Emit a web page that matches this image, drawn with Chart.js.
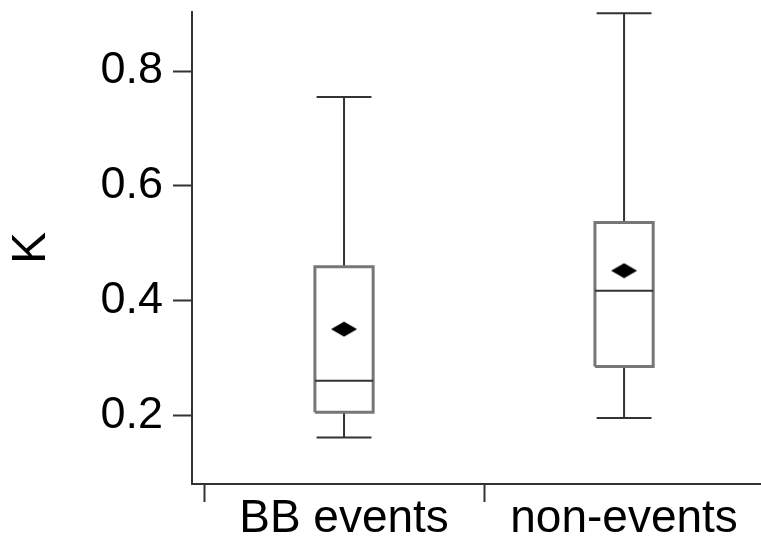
<!DOCTYPE html>
<html>
<head>
<meta charset="utf-8">
<script src="https://cdn.jsdelivr.net/npm/chart.js@4"></script>
<style>
  html, body { margin: 0; padding: 0; background: #fff; }
  canvas { display: block; }
</style>
</head>
<body>
<canvas id="boxChart" width="761" height="542"></canvas>
<script>
// categories and box statistics
const categories = ["BB events", "non-events"];
const whiskerLow = [0.161, 0.195];
const q1 = [0.205, 0.285];
const medians = [0.26, 0.417];
const q3 = [0.459, 0.536];
const whiskerHigh = [0.755, 0.901];
const means = [0.35, 0.452];
const yTicks = [0.2, 0.4, 0.6, 0.8];

const FONT = "'Liberation Sans', Arial, sans-serif";
const boxHalf = 0.104; // half width of a box, in x units
const capHalf = 0.098; // half width of whisker caps

// each category sits in the middle of its slot [i, i+1]
const centers = categories.map((c, i) => i + 0.5);
const GAP = { x: null, y: null };

const boxPts = [];
const medianPts = [];
const whiskerPts = [];
centers.forEach((x, i) => {
  boxPts.push(
    { x: x - boxHalf, y: q1[i] }, { x: x + boxHalf, y: q1[i] },
    { x: x + boxHalf, y: q3[i] }, { x: x - boxHalf, y: q3[i] },
    { x: x - boxHalf, y: q1[i] }, GAP
  );
  medianPts.push({ x: x - boxHalf, y: medians[i] }, { x: x + boxHalf, y: medians[i] }, GAP);
  whiskerPts.push(
    { x: x, y: q3[i] }, { x: x, y: whiskerHigh[i] }, GAP,
    { x: x - capHalf, y: whiskerHigh[i] }, { x: x + capHalf, y: whiskerHigh[i] }, GAP,
    { x: x, y: q1[i] }, { x: x, y: whiskerLow[i] }, GAP,
    { x: x - capHalf, y: whiskerLow[i] }, { x: x + capHalf, y: whiskerLow[i] }, GAP
  );
});
const meanPts = centers.map((x, i) => ({ x: x, y: means[i] }));

// flattened diamond for the mean marker
const diamond = document.createElement("canvas");
diamond.width = 28;
diamond.height = 16;
const dctx = diamond.getContext("2d");
dctx.fillStyle = "#000";
dctx.beginPath();
dctx.moveTo(1, 8);
dctx.lineTo(14, 0.5);
dctx.lineTo(27, 8);
dctx.lineTo(14, 15.5);
dctx.closePath();
dctx.fill();

const lineDefaults = {
  pointRadius: 0,
  fill: false,
  tension: 0,
  spanGaps: false,
  borderCapStyle: "butt",
};

new Chart(document.getElementById("boxChart"), {
  type: "line",
  data: {
    datasets: [
      { ...lineDefaults, label: "mean", data: meanPts, showLine: false, pointStyle: diamond, pointRadius: 8 },
      { ...lineDefaults, label: "median", data: medianPts, borderColor: "#333", borderWidth: 2 },
      { ...lineDefaults, label: "box", data: boxPts, borderColor: "#777", borderWidth: 3, borderJoinStyle: "miter" },
      { ...lineDefaults, label: "whiskers", data: whiskerPts, borderColor: "#333", borderWidth: 2 },
    ],
  },
  options: {
    responsive: false,
    animation: false,
    layout: { autoPadding: false, padding: { top: 12, right: 0, bottom: 0, left: 0 } },
    plugins: {
      legend: { display: false },
      tooltip: { enabled: false },
    },
    scales: {
      x: {
        type: "linear",
        min: -0.0429,
        max: 1.989,
        afterBuildTicks: (s) => {
          const vals = [];
          categories.forEach((c, i) => vals.push(i, i + 0.5));
          s.ticks = vals.map((v) => ({ value: v }));
        },
        afterFit: (s) => {
          s.height = 58;
          s.paddingLeft = 0;
          s.paddingRight = 0;
        },
        ticks: {
          autoSkip: false,
          maxRotation: 0,
          padding: -10,
          color: "#000",
          font: { family: FONT, size: 46 },
          callback: (v) => (v % 1 === 0.5 ? categories[Math.floor(v)] : ""),
        },
        grid: {
          drawOnChartArea: false,
          tickLength: 18,
          tickWidth: 2,
          tickColor: (ctx) => (ctx.tick && ctx.tick.value % 1 === 0 ? "#333" : "rgba(0,0,0,0)"),
        },
        border: { color: "#333", width: 2 },
      },
      y: {
        min: 0.08,
        max: 0.903,
        afterBuildTicks: (s) => {
          s.ticks = yTicks.map((v) => ({ value: v }));
        },
        afterFit: (s) => {
          s.width = 192;
          s.paddingTop = 0;
          s.paddingBottom = 0;
        },
        ticks: {
          padding: 10,
          color: "#000",
          font: { family: FONT, size: 45 },
          callback: (v) => v.toFixed(1),
        },
        grid: {
          drawOnChartArea: false,
          tickLength: 19,
          tickWidth: 2,
          tickColor: "#333",
        },
        border: { color: "#333", width: 2 },
        title: {
          display: true,
          text: "K",
          color: "#000",
          font: { family: FONT, size: 48 },
          padding: { top: 3, bottom: 0 },
        },
      },
    },
  },
});
</script>
</body>
</html>
